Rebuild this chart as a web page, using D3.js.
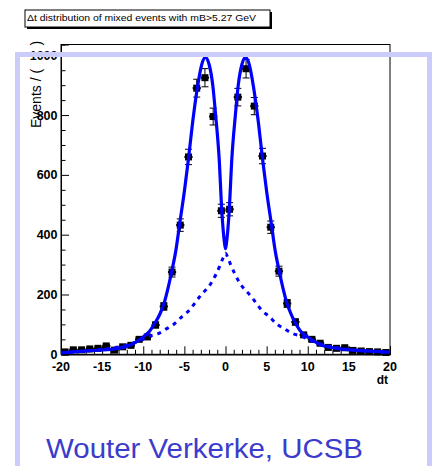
<!DOCTYPE html>
<html>
<head>
<meta charset="utf-8">
<script src="https://cdn.jsdelivr.net/npm/d3@7"></script>
<style>
  html, body { margin: 0; padding: 0; background: #fff; }
  svg { display: block; }
  text { font-family: "Liberation Sans", Arial, sans-serif; }
</style>
</head>
<body>
<svg id="chart" width="433" height="466"></svg>
<script>
// Histogram of mixed-event decay-time differences (bin centres and counts)
const binCenters = [-19.5, -18.5, -17.5, -16.5, -15.5, -14.5, -13.5, -12.5, -11.5, -10.5,
                    -9.5, -8.5, -7.5, -6.5, -5.5, -4.5, -3.5, -2.5, -1.5, -0.5,
                    0.5, 1.5, 2.5, 3.5, 4.5, 5.5, 6.5, 7.5, 8.5, 9.5,
                    10.5, 11.5, 12.5, 13.5, 14.5, 15.5, 16.5, 17.5, 18.5, 19.5];
const binCounts = [8, 15, 15, 18, 20, 28, 14, 25, 30, 50,
                   58, 98, 160, 275, 432, 660, 890, 925, 795, 480,
                   485, 860, 955, 830, 663, 425, 278, 170, 108, 65,
                   50, 37, 23, 20, 22, 13, 11, 9, 8, 6];

// Full fit projection, sampled along dt
const fitT = [-20, -16.5, -13.5, -11.5, -10, -9.3, -8.5, -8, -7.5, -7, -6.5, -6.05, -5.6, -5, -4.5, -4, -3.4, -2.9, -2.45, -2,
              -1.55, -1.2, -0.77, -0.45, -0.25, -0.12, 0, 0.12, 0.25, 0.45, 0.77, 1.2, 1.55, 2, 2.45, 2.9,
              3.4, 4, 4.5, 5, 5.6, 6.05, 6.5, 7, 7.5, 8, 8.5, 9.3, 10, 11.5, 13.5, 16.5, 20];
const fitY = [5, 12, 18, 32, 58, 75, 108, 133, 168, 220, 282, 345, 431, 545, 654, 775, 895, 968, 993, 970,
              900, 800, 654, 480, 405, 372, 353, 372, 405, 480, 654, 800, 900, 970, 993, 968,
              895, 775, 654, 545, 431, 345, 282, 220, 168, 133, 105, 72, 58, 33, 20, 12, 7];

// Background-like component of the fit (dashed)
const compT = [-20, -17, -14, -12, -10, -9.3, -8.1, -7.2, -6.4, -5.1, -4.6, -3.1, -1.7, -0.7, -0.3, 0,
               0.3, 0.7, 1.7, 3.1, 4.6, 5.1, 6.4, 7.2, 8.1, 9.3, 10, 12, 14, 17, 20];
const compY = [5, 11, 20, 31, 50, 60, 70, 85, 98, 131, 142, 194, 240, 295, 322, 338,
               322, 295, 240, 194, 142, 131, 98, 85, 70, 60, 50, 31, 20, 11, 5];

const xTicksMajor = [-20, -15, -10, -5, 0, 5, 10, 15, 20];
const xTicksMinor = [-19, -18, -17, -16, -14, -13, -12, -11, -9, -8, -7, -6, -4, -3, -2, -1,
                     1, 2, 3, 4, 6, 7, 8, 9, 11, 12, 13, 14, 16, 17, 18, 19];
const yTicksMajor = [0, 200, 400, 600, 800, 1000];
const yTicksMinor = [50, 100, 150, 250, 300, 350, 450, 500, 550, 650, 700, 750, 850, 900, 950];

const titleText = "\u0394t distribution of mixed events with mB>5.27 GeV";
const yTitle = "Events / (      )";
const xTitle = "dt";
const footer = "Wouter Verkerke, UCSB";

const svg = d3.select("#chart");
const frame = { left: 61, right: 390, top: 44.5, bottom: 354.3 };

const x = d3.scaleLinear().domain([-20, 20]).range([frame.left, frame.right]);
const y = d3.scaleLinear().domain([0, 1036]).range([frame.bottom, frame.top]);

// Plot frame
svg.append("rect")
  .attr("x", frame.left).attr("y", frame.top)
  .attr("width", frame.right - frame.left).attr("height", frame.bottom - frame.top)
  .attr("fill", "#fff").attr("stroke", "#000").attr("stroke-width", 1);

// X axis: ticks point up into the frame
const xAxis = d3.axisTop(x).tickValues(xTicksMajor).tickSize(8).tickFormat("");
const xAxisMinor = d3.axisTop(x).tickValues(xTicksMinor).tickSize(4.5).tickFormat("");
[xAxis, xAxisMinor].forEach(ax => {
  const g = svg.append("g").attr("transform", `translate(0,${frame.bottom})`).call(ax);
  g.select(".domain").attr("stroke", "#000");
  g.selectAll(".tick line").attr("stroke", "#000");
});
svg.append("g").selectAll("text").data(xTicksMajor).join("text")
  .attr("x", d => x(d)).attr("y", 371)
  .attr("text-anchor", "middle")
  .attr("font-size", 12.5).attr("font-weight", "bold")
  .text(d => d);

// Y axis: ticks point right into the frame
const yAxis = d3.axisRight(y).tickValues(yTicksMajor).tickSize(8).tickFormat("");
const yAxisMinor = d3.axisRight(y).tickValues(yTicksMinor).tickSize(4.5).tickFormat("");
[yAxis, yAxisMinor].forEach(ax => {
  const g = svg.append("g").attr("transform", `translate(${frame.left},0)`).call(ax);
  g.select(".domain").attr("stroke", "#000");
  g.selectAll(".tick line").attr("stroke", "#000");
});
svg.append("g").selectAll("text").data(yTicksMajor).join("text")
  .attr("x", 57.5).attr("y", d => y(d) + 4.6)
  .attr("text-anchor", "end")
  .attr("font-size", 12.5).attr("font-weight", "bold")
  .text(d => d);

// Axis titles
svg.append("text")
  .attr("x", 388).attr("y", 384)
  .attr("text-anchor", "end")
  .attr("font-size", 12).attr("font-weight", "bold")
  .text(xTitle);
svg.append("text")
  .attr("transform", "translate(41,128) rotate(-90)")
  .attr("font-size", 14)
  .style("white-space", "pre")
  .text(yTitle);

// Data points with Poisson error bars
const pts = svg.append("g");
const halfBin = 0.5;
binCenters.forEach((c, i) => {
  const n = binCounts[i];
  const e = Math.sqrt(n);
  const cx = x(c), cy = y(n);
  const y0 = y(n - e), y1 = y(n + e);
  const g = pts.append("g").attr("stroke", "#000").attr("stroke-width", 1);
  g.append("line").attr("x1", cx).attr("x2", cx).attr("y1", y0).attr("y2", y1);
  g.append("line").attr("x1", cx - 3.5).attr("x2", cx + 3.5).attr("y1", y0).attr("y2", y0);
  g.append("line").attr("x1", cx - 3.5).attr("x2", cx + 3.5).attr("y1", y1).attr("y2", y1);
  g.append("line").attr("x1", x(c - halfBin)).attr("x2", x(c + halfBin)).attr("y1", cy).attr("y2", cy)
    .attr("stroke-width", 2);
  pts.append("rect")
    .attr("x", cx - 3.5).attr("y", cy - 3.5).attr("width", 7).attr("height", 7)
    .attr("fill", "#000");
});

// Fit curves
const line = d3.line().x(d => x(d[0])).y(d => y(d[1])).curve(d3.curveMonotoneX);
svg.append("path")
  .datum(compT.map((t, i) => [t, compY[i]]))
  .attr("d", line)
  .attr("fill", "none").attr("stroke", "#0000ff")
  .attr("stroke-width", 3).attr("stroke-dasharray", "4,5");
svg.append("path")
  .datum(fitT.map((t, i) => [t, fitY[i]]))
  .attr("d", line)
  .attr("fill", "none").attr("stroke", "#0000ff")
  .attr("stroke-width", 3.2).attr("stroke-linejoin", "round");

// Title box with drop shadow
svg.append("rect").attr("x", 27).attr("y", 12).attr("width", 245).attr("height", 17).attr("fill", "#000");
svg.append("rect").attr("x", 25).attr("y", 10).attr("width", 245).attr("height", 17)
  .attr("fill", "#fff").attr("stroke", "#000").attr("stroke-width", 1);
svg.append("text")
  .attr("x", 27).attr("y", 20.5)
  .attr("font-size", 9.5)
  .attr("textLength", 229).attr("lengthAdjust", "spacingAndGlyphs")
  .text(titleText);

// Slide border and footer
svg.append("rect")
  .attr("x", 17.5).attr("y", 54.5).attr("width", 412).attr("height", 500)
  .attr("fill", "none").attr("stroke", "#ccccfa").attr("stroke-width", 5);
svg.append("text")
  .attr("x", 46).attr("y", 458)
  .attr("font-family", "DejaVu Sans, Verdana, sans-serif")
  .attr("font-size", 27)
  .attr("fill", "#3b3bcc")
  .attr("textLength", 317).attr("lengthAdjust", "spacingAndGlyphs")
  .text(footer);
</script>
</body>
</html>
